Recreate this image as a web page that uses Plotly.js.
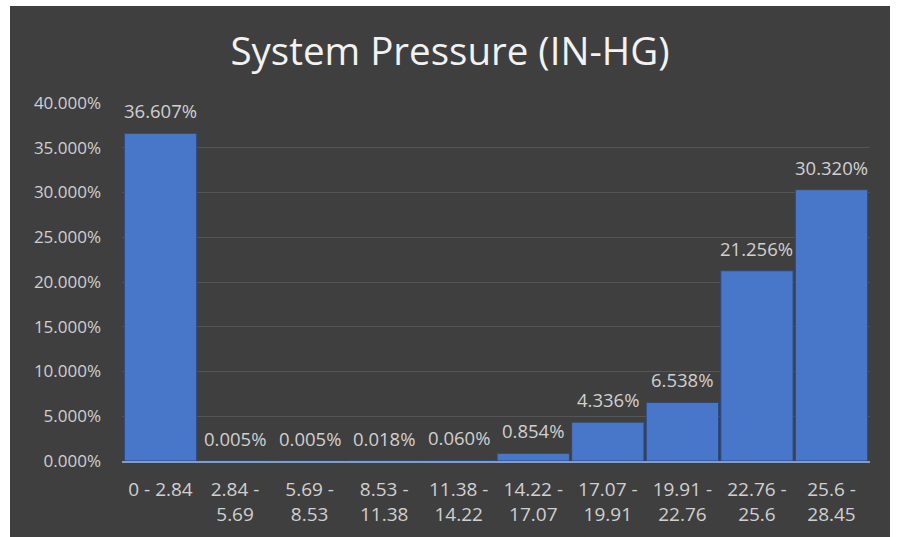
<!DOCTYPE html>
<html>
<head>
<meta charset="utf-8">
<script src="https://cdn.plot.ly/plotly-3.0.1.min.js"></script>
<style>
html,body{margin:0;padding:0;background:#ffffff;width:897px;height:537px;overflow:hidden;}
#chart{position:absolute;left:10px;top:6px;width:880px;height:531px;}
</style>
</head>
<body>
<div id="chart"></div>
<script>
const categories = ["0 - 2.84","2.84 -<br>5.69","5.69 -<br>8.53","8.53 -<br>11.38","11.38 -<br>14.22","14.22 -<br>17.07","17.07 -<br>19.91","19.91 -<br>22.76","22.76 -<br>25.6","25.6 -<br>28.45"];
const values = [36.607, 0.005, 0.005, 0.018, 0.060, 0.854, 4.336, 6.538, 21.256, 30.320];
const valueLabels = ["36.607%","0.005%","0.005%","0.018%","0.060%","0.854%","4.336%","6.538%","21.256%","30.320%"];
const yTickVals = [0,5,10,15,20,25,30,35,40];
const yTickText = ["0.000%","5.000%","10.000%","15.000%","20.000%","25.000%","30.000%","35.000%","40.000%"];

const trace = {
  type: "bar",
  x: categories,
  y: values,
  marker: {color: "#4876c9", line: {color: "#2a4a80", width: 1}},
  hoverinfo: "none"
};

const annotations = categories.map((c, i) => ({
  x: c, y: values[i], xref: "x", yref: "y",
  text: valueLabels[i], showarrow: false,
  xanchor: "center", yanchor: "bottom", yshift: 8,
  font: {family: "Open Sans, sans-serif", size: 18.5, color: "#d0d0d0"}
}));

const layout = {
  width: 880, height: 531,
  paper_bgcolor: "#3f3f3f",
  plot_bgcolor: "rgba(0,0,0,0)",
  margin: {l: 112, r: 20, t: 97, b: 76},
  bargap: 0.03,
  showlegend: false,
  annotations: annotations,
  title: {text: "System Pressure (IN-HG)", x: 0.5, xanchor: "center", y: 0.915, yanchor: "middle",
          font: {family: "Open Sans, sans-serif", size: 38.5, color: "#f2f2f2"}},
  xaxis: {
    type: "category",
    tickfont: {family: "Open Sans, sans-serif", size: 19, color: "#d0d0d0"},
    showgrid: false, zeroline: false,
    showline: true, linecolor: "#8a9bb8", linewidth: 2,
    ticks: "", tickangle: 0, ticklabelstandoff: 10
  },
  yaxis: {
    range: [0, 40],
    tickvals: yTickVals, ticktext: yTickText,
    tickfont: {family: "Open Sans, sans-serif", size: 17, color: "#d0d0d0"},
    showgrid: true, gridcolor: "#555555", gridwidth: 1,
    zeroline: false, showline: false, ticks: "", ticklabelstandoff: 20
  }
};

Plotly.newPlot("chart", [trace], layout, {displayModeBar: false, staticPlot: true});
</script>
</body>
</html>
